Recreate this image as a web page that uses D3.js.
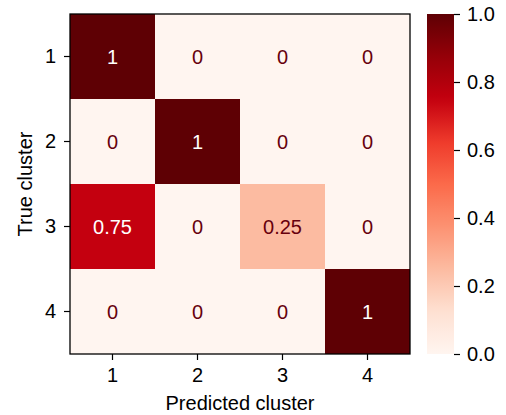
<!DOCTYPE html>
<html>
<head>
<meta charset="utf-8">
<script src="https://cdn.jsdelivr.net/npm/d3@7"></script>
<style>
  html, body { margin: 0; padding: 0; background: #fff; }
  text { font-family: "Liberation Sans", Arial, Helvetica, sans-serif; }
</style>
</head>
<body>
<svg id="chart" width="506" height="415"></svg>
<script>
// Confusion matrix: rows = true cluster, columns = predicted cluster
const trueClusters = ["1", "2", "3", "4"];
const predictedClusters = ["1", "2", "3", "4"];
const matrix = [
  [1, 0, 0, 0],
  [0, 1, 0, 0],
  [0.75, 0, 0.25, 0],
  [0, 0, 0, 1]
];
const colorbarTicks = [0.0, 0.2, 0.4, 0.6, 0.8, 1.0];

const svg = d3.select("#chart");
const fontSize = 20;
const plot = { left: 70, top: 14, width: 340, height: 340 };

// Sequential red palette
const redStops = ["#fff5f0", "#fee0d2", "#fcbba1", "#fc9272", "#fb6a4a",
                  "#ee3a2b", "#c4000f", "#950008", "#5e0004"];
const color = d3.scaleSequential(d3.piecewise(d3.interpolateRgb, redStops)).domain([0, 1]);

const x = d3.scaleBand().domain(predictedClusters).range([plot.left, plot.left + plot.width]);
const y = d3.scaleBand().domain(trueClusters).range([plot.top, plot.top + plot.height]);

const cells = [];
matrix.forEach((row, i) => row.forEach((v, j) => cells.push({ r: trueClusters[i], c: predictedClusters[j], v })));

const g = svg.append("g");
g.selectAll("rect.cell").data(cells).enter().append("rect")
  .attr("class", "cell")
  .attr("x", d => x(d.c))
  .attr("y", d => y(d.r))
  .attr("width", x.bandwidth())
  .attr("height", y.bandwidth())
  .attr("fill", d => color(d.v));

g.selectAll("text.val").data(cells).enter().append("text")
  .attr("class", "val")
  .attr("x", d => x(d.c) + x.bandwidth() / 2)
  .attr("y", d => y(d.r) + y.bandwidth() / 2)
  .attr("dy", "0.36em")
  .attr("text-anchor", "middle")
  .attr("font-size", fontSize)
  .attr("fill", d => d.v > 0.5 ? "#ffffff" : "#67000d")
  .text(d => d3.format("~g")(d.v));

// Frame
svg.append("rect")
  .attr("x", plot.left).attr("y", plot.top)
  .attr("width", plot.width).attr("height", plot.height)
  .attr("fill", "none").attr("stroke", "#000").attr("stroke-width", 1.3);

function styleAxis(sel) {
  sel.select(".domain").remove();
  sel.selectAll(".tick line").attr("stroke", "#000").attr("stroke-width", 1.2);
  sel.selectAll(".tick text").attr("font-size", fontSize).attr("fill", "#000")
    .attr("font-family", "Liberation Sans, Arial, sans-serif");
}

svg.append("g")
  .attr("transform", `translate(0,${plot.top + plot.height})`)
  .call(d3.axisBottom(x).tickSize(6).tickPadding(8))
  .call(styleAxis);

svg.append("g")
  .attr("transform", `translate(${plot.left},0)`)
  .call(d3.axisLeft(y).tickSize(6).tickPadding(8))
  .call(styleAxis);

// Axis titles
svg.append("text")
  .attr("x", plot.left + plot.width / 2)
  .attr("y", 410)
  .attr("text-anchor", "middle")
  .attr("font-size", fontSize)
  .text("Predicted cluster");

svg.append("text")
  .attr("transform", `translate(32,${plot.top + plot.height / 2}) rotate(-90)`)
  .attr("text-anchor", "middle")
  .attr("font-size", fontSize)
  .text("True cluster");

// Colorbar
const cb = { left: 427, width: 27, top: plot.top, height: plot.height };
const cbScale = d3.scaleLinear().domain([0, 1]).range([cb.top + cb.height, cb.top]);
const defs = svg.append("defs");
const grad = defs.append("linearGradient").attr("id", "cbGrad")
  .attr("x1", 0).attr("y1", 1).attr("x2", 0).attr("y2", 0);
d3.range(0, 1.0001, 0.02).forEach(t => {
  grad.append("stop").attr("offset", t).attr("stop-color", color(t));
});
svg.append("rect")
  .attr("x", cb.left).attr("y", cb.top)
  .attr("width", cb.width).attr("height", cb.height)
  .attr("fill", "url(#cbGrad)");

svg.append("g")
  .attr("transform", `translate(${cb.left + cb.width},0)`)
  .call(d3.axisRight(cbScale).tickValues(colorbarTicks).tickFormat(d3.format(".1f")).tickSize(6).tickPadding(7))
  .call(styleAxis);
</script>
</body>
</html>
